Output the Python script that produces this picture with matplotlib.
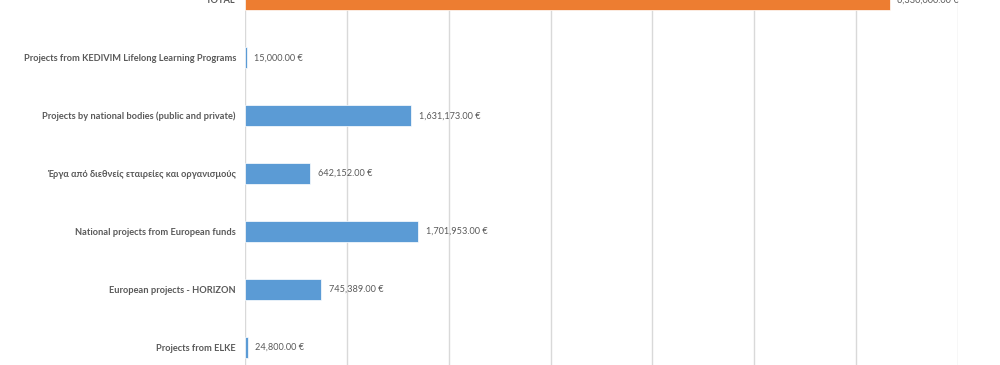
import matplotlib.pyplot as plt
from matplotlib.ticker import MultipleLocator

# data, bottom to top
categories = ["Projects from ELKE",
              "European projects - HORIZON",
              "National projects from European funds",
              "Έργα από διεθνείς εταιρείες και οργανισμούς",
              "Projects by national bodies (public and private)",
              "Projects from KEDIVIM Lifelong Learning Programs",
              "TOTAL"]
values = [24800, 745389, 1701953, 642152, 1631173, 15000, 6330000]
colors = ["#5B9BD5"] * 6 + ["#ED7D31"]

plt.rcParams['font.family'] = ['Lato', 'DejaVu Sans']

fig = plt.figure(figsize=(10, 3.65), dpi=100)
ax = fig.add_axes([0.245, 0.0, 0.713, 1.0])

y = list(range(len(categories)))
ax.barh(y, values, height=0.36, color=colors, edgecolor="white", linewidth=0.5, zorder=3)

for yi, v in zip(y, values):
    ax.annotate(f"{v:,.2f} €", (v, yi), xytext=(5.5, 0), textcoords="offset points",
                va="center", ha="left", fontsize=6.6, color="#595959",
                annotation_clip=False, clip_on=False)

ax.set_xlim(0, 7e6)
ax.set_ylim(-0.308, 5.942)
ax.xaxis.set_major_locator(MultipleLocator(1e6))
ax.grid(axis="x", color="#d9d9d9", linewidth=1, zorder=0)
ax.set_xticklabels([])
ax.tick_params(axis="x", length=0)
ax.tick_params(axis="y", length=0, pad=6.5)
ax.set_yticks(y)
ax.set_yticklabels(categories, fontsize=6.7, fontweight="bold", color="#595959")
for s in ax.spines.values():
    s.set_visible(False)

fig.savefig("out.png", dpi=100)
